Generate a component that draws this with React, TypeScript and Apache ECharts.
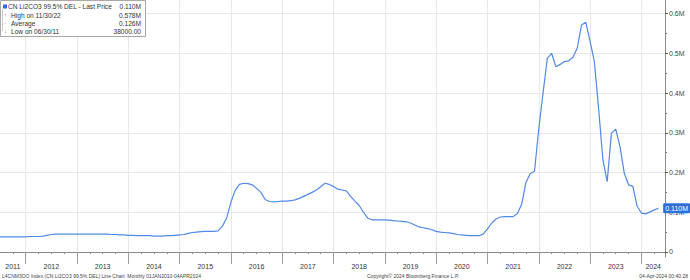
import React, { useEffect, useRef } from 'react';
import * as echarts from 'echarts';

// Monthly month-end prices, starting June 2011 (thousand CNY/t)
const startYear = 2011;
const startMonth = 6;
const pricesK = [
  38, 38, 38, 38, 38, 38,
  38, 39, 39, 39, 40, 42,
  44, 45, 45, 45, 45, 45,
  45, 45, 45, 45, 45, 45,
  45, 45, 44, 44, 43, 43,
  42, 42, 41, 41, 41, 41,
  40, 40, 40, 41, 41, 42,
  43, 44, 47, 49, 50, 51,
  52, 52, 52, 53, 65, 85,
  125, 155, 170, 173, 172, 169,
  160, 150, 132, 127, 126, 127,
  128, 128, 129, 131, 135, 140,
  145, 150, 156, 164, 173, 170,
  165, 158, 156, 154, 140, 128,
  117, 100, 85, 81, 81, 81,
  81, 80, 79, 78, 77, 76,
  73, 68, 63, 61, 59, 56,
  52, 50, 49, 48, 46, 44,
  43, 42, 41, 41, 41, 45,
  58, 73, 83, 88, 89, 89,
  89, 97, 120, 175, 197, 203,
  310, 400, 487, 500, 466, 472,
  479, 481, 490, 513, 571, 578,
  530, 479, 360, 232, 177, 299,
  309, 265, 198, 169, 165, 115,
  98, 96, 101, 106, 110,
];

const years = [2011, 2012, 2013, 2014, 2015, 2016, 2017, 2018, 2019, 2020, 2021, 2022, 2023, 2024];
const yTickValues = [0, 100000, 200000, 300000, 400000, 500000, 600000];
const yMinorValues = [50000, 150000, 250000, 350000, 450000, 550000];

const legendRows = [
  { icon: '', label: 'CN Li2CO3 99.5% DEL - Last Price', value: '0.110M' },
  { icon: '↑', label: 'High on 11/30/22', value: '0.578M' },
  { icon: '-', label: 'Average', value: '0.126M' },
  { icon: '↓', label: 'Low on 06/30/11', value: '38000.00' },
];

const footLeft = 'L4CNM3OO Index (CN Li2CO3 99.5% DEL) Line Chart  Monthly 01JAN2010-04APR2024';
const footMid = 'Copyright© 2024 Bloomberg Finance L.P.';
const footRight = '04-Apr-2024 00:40:28';

const X_MIN = 2011.5;
const X_MAX = 2024.46;
const Y_MIN = -12600;
const Y_MAX = 634000;

const FONT = 'Liberation Sans';
const LINE_COLOR = '#5089e6';
const TAG_COLOR = '#2f6fd6';

export default function App() {
  const ref = useRef<HTMLDivElement>(null);

  useEffect(() => {
    document.body.style.margin = '0';
    if (!ref.current) return;
    const chart = echarts.init(ref.current, undefined, { renderer: 'svg' });

    const seriesData = pricesK.map((v, i) => [startYear + (startMonth + i) / 12, v * 1000]);
    const lastValue = pricesK[pricesK.length - 1] * 1000;

    const quarterTicks: number[] = [];
    for (const y of years) {
      for (const q of [0.25, 0.5, 0.75]) {
        const t = y + q;
        if (t > X_MIN && t < X_MAX) quarterTicks.push(t);
      }
    }
    const yearTicks = years.filter((y) => y > X_MIN && y < X_MAX);
    const yearLabelPos = years.map((y) => (Math.max(y, X_MIN) + Math.min(y + 1, X_MAX)) / 2);

    const legendGraphics: any[] = [
      {
        type: 'rect',
        shape: { x: 0.5, y: 0.5, width: 145, height: 36 },
        style: { fill: '#ffffff', stroke: '#a8a8a8', lineWidth: 1 },
        z: 100,
      },
      {
        type: 'line',
        shape: { x1: 2.5, y1: 9, x2: 2.5, y2: 31 },
        style: { stroke: '#c8c8c8', lineWidth: 1 },
        z: 101,
      },
      {
        type: 'rect',
        shape: { x: 3, y: 4.5, width: 4, height: 4 },
        style: { fill: TAG_COLOR },
        z: 102,
      },
    ];
    const rowY = [6.8, 15, 23, 31];
    legendRows.forEach((r, i) => {
      if (r.icon) {
        legendGraphics.push({
          type: 'text',
          x: 4,
          y: rowY[i],
          style: { text: r.icon, fontSize: 6, fontFamily: FONT, fill: '#888', verticalAlign: 'middle' },
          z: 102,
        });
      }
      legendGraphics.push({
        type: 'text',
        x: i === 0 ? 8 : 11,
        y: rowY[i],
        style: { text: r.label, fontSize: 6.6, fontFamily: FONT, fill: '#333', verticalAlign: 'middle' },
        z: 102,
      });
      legendGraphics.push({
        type: 'text',
        x: 141,
        y: rowY[i],
        style: { text: r.value, fontSize: 6.6, fontFamily: FONT, fill: '#333', verticalAlign: 'middle', align: 'right' },
        z: 102,
      });
    });

    const footGraphics = [
      { type: 'text', x: 2, y: 276, style: { text: footLeft, fontSize: 5, fontFamily: FONT, fill: '#444', verticalAlign: 'middle' } },
      { type: 'text', x: 367, y: 276, style: { text: footMid, fontSize: 5, fontFamily: FONT, fill: '#444', verticalAlign: 'middle' } },
      { type: 'text', x: 688, y: 276, style: { text: footRight, fontSize: 5, fontFamily: FONT, fill: '#444', verticalAlign: 'middle', align: 'right' } },
    ];

    chart.setOption({
      animation: false,
      backgroundColor: '#ffffff',
      grid: { left: 0, right: 25, top: 0, bottom: 23, containLabel: false },
      xAxis: [
        {
          type: 'value',
          min: X_MIN,
          max: X_MAX,
          position: 'bottom',
          axisLine: { show: true, lineStyle: { color: '#8a8a8a', width: 1 } },
          axisTick: { show: true, customValues: quarterTicks, length: 2, lineStyle: { color: '#8a8a8a' } },
          axisLabel: { show: false },
          splitLine: { show: false },
        },
        {
          type: 'value',
          min: X_MIN,
          max: X_MAX,
          position: 'bottom',
          axisLine: { show: false },
          axisTick: { show: true, customValues: yearTicks, length: 12, lineStyle: { color: '#9a9a9a' } },
          axisLabel: {
            show: true,
            customValues: yearLabelPos,
            formatter: (v: number) => String(Math.floor(v + 1e-6)),
            fontSize: 7,
            fontFamily: FONT,
            color: '#333',
            margin: 6,
          },
          splitLine: { show: true, lineStyle: { color: '#e8e8e8', width: 1 } },
        },
      ],
      yAxis: [
        {
          type: 'value',
          min: Y_MIN,
          max: Y_MAX,
          position: 'right',
          axisLine: { show: true, lineStyle: { color: '#8a8a8a', width: 1 } },
          axisTick: { show: true, customValues: yTickValues, length: 3, inside: false, lineStyle: { color: '#555' } },
          axisLabel: {
            show: true,
            customValues: yTickValues,
            formatter: (v: number) => (v === 0 ? '0' : (v / 1e6).toFixed(1) + 'M'),
            fontSize: 7,
            fontFamily: FONT,
            color: '#444',
            margin: 4,
          },
          splitLine: { show: true, lineStyle: { color: '#e8e8e8', width: 1 } },
          axisPointer: {
            show: true,
            type: 'line',
            value: lastValue,
            status: 'show',
            triggerTooltip: false,
            lineStyle: { opacity: 0 },
            label: {
              show: true,
              formatter: (p: any) => (p.value / 1e6).toFixed(3) + 'M',
              backgroundColor: TAG_COLOR,
              color: '#ffffff',
              fontSize: 7,
              fontFamily: FONT,
              padding: [2, 2, 1, 2],
              margin: 2,
              borderRadius: 1,
            },
          },
        },
        {
          type: 'value',
          min: Y_MIN,
          max: Y_MAX,
          position: 'right',
          axisLine: { show: false },
          axisTick: { show: true, customValues: yMinorValues, length: 2, inside: false, lineStyle: { color: '#777' } },
          axisLabel: { show: false },
          splitLine: { show: false },
        },
      ],
      series: [
        {
          type: 'line',
          xAxisIndex: 0,
          yAxisIndex: 0,
          data: seriesData,
          showSymbol: false,
          symbol: 'none',
          lineStyle: { color: LINE_COLOR, width: 1.2 },
          silent: true,
          z: 5,
        },
      ],
      graphic: [...legendGraphics, ...footGraphics],
    });

    return () => chart.dispose();
  }, []);

  return <div ref={ref} style={{ width: 690, height: 280 }} />;
}
